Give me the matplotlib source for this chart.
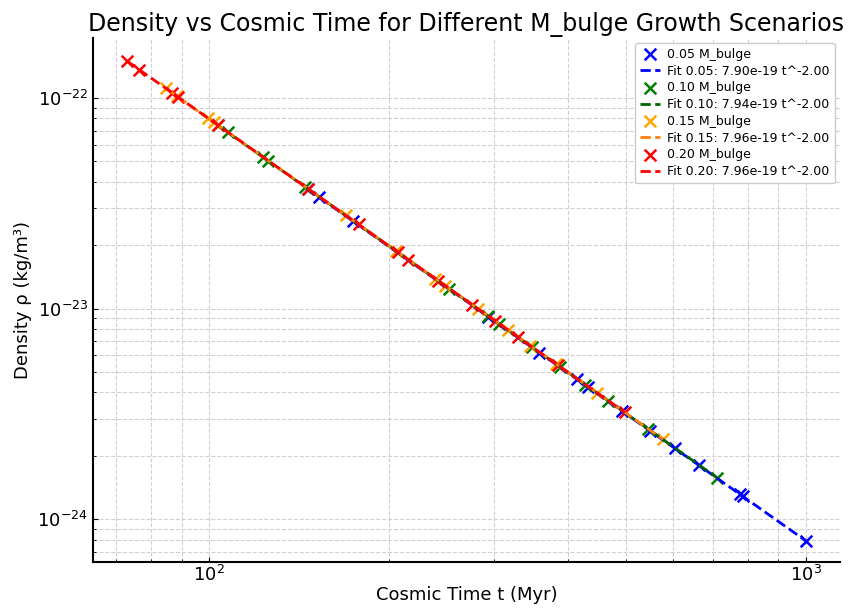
import matplotlib
matplotlib.use("Agg")
import matplotlib.pyplot as plt
from matplotlib.ticker import NullFormatter
import numpy as np

# sampled points for each bulge fraction (t in Myr, rho in kg/m^3)
t_005 = [146.4, 152.7, 174.1, 293.9, 357.7, 414.1, 432.0, 492.5, 548.5, 603.6, 662.3, 775.7, 784.6, 1000.0]
rho_005 = [3.686e-23, 3.388e-23, 2.606e-23, 9.15e-24, 6.17e-24, 4.61e-24, 4.23e-24, 3.26e-24, 2.63e-24,
           2.17e-24, 1.80e-24, 1.313e-24, 1.283e-24, 7.90e-25]

t_010 = [103.5, 107.6, 123.1, 125.5, 145.0, 252.9, 293.9, 306.6, 348.2, 387.9, 427.0, 466.6, 544.3, 710.0]
rho_010 = [7.41e-23, 6.86e-23, 5.24e-23, 5.04e-23, 3.78e-23, 1.241e-23, 9.19e-24, 8.45e-24, 6.55e-24,
           5.28e-24, 4.35e-24, 3.65e-24, 2.68e-24, 1.575e-24]

t_015 = [84.7, 88.4, 99.6, 102.0, 169.5, 206.0, 239.7, 249.1, 282.9, 317.5, 345.5, 381.9, 447.2, 576.6]
rho_015 = [1.110e-22, 1.019e-22, 8.02e-23, 7.65e-23, 2.77e-23, 1.876e-23, 1.385e-23, 1.283e-23, 9.95e-24,
           7.90e-24, 6.67e-24, 5.46e-24, 3.98e-24, 2.39e-24]

t_020 = [72.9, 76.4, 86.7, 88.8, 103.5, 146.4, 178.2, 207.1, 216.0, 242.4, 276.4, 302.0, 329.9, 384.9, 498.2]
rho_020 = [1.498e-22, 1.364e-22, 1.059e-22, 1.010e-22, 7.43e-23, 3.71e-23, 2.51e-23, 1.856e-23, 1.706e-23,
           1.355e-23, 1.042e-23, 8.73e-24, 7.31e-24, 5.37e-24, 3.21e-24]

fractions = ["0.05", "0.10", "0.15", "0.20"]
fit_amp = [7.90e-19, 7.94e-19, 7.96e-19, 7.96e-19]
fit_exp = [-2.00, -2.00, -2.00, -2.00]

scatter_colors = ["blue", "green", "orange", "red"]
fit_colors = ["blue", "darkgreen", "#ff7f0e", "red"]

x_major = [1e2, 1e3]
y_major = [1e-24, 1e-23, 1e-22]

series = [(t_005, rho_005), (t_010, rho_010), (t_015, rho_015), (t_020, rho_020)]

fig = plt.figure(figsize=(8.55, 6.09), dpi=100)
ax = fig.add_axes([0.109, 0.077, 0.873, 0.861])

for i, (t, rho) in enumerate(series):
    ax.scatter(t, rho, marker="x", s=70, linewidths=1.8, color=scatter_colors[i],
               label="%s M_bulge" % fractions[i])
    t_fit = np.logspace(np.log10(min(t)), np.log10(max(t)), 200)
    ax.plot(t_fit, fit_amp[i] * t_fit ** fit_exp[i], "--", color=fit_colors[i], lw=2,
            label="Fit %s: %.2e t^%.2f" % (fractions[i], fit_amp[i], fit_exp[i]))

ax.set_xscale("log")
ax.set_yscale("log")
ax.set_xticks(x_major)
ax.set_yticks(y_major)
ax.set_xlim(64, 1140)
ax.set_ylim(6.25e-25, 1.93e-22)
ax.xaxis.set_minor_formatter(NullFormatter())
ax.yaxis.set_minor_formatter(NullFormatter())

ax.grid(True, which="both", linestyle="--", color="#d0d0d0", linewidth=0.8)
ax.set_axisbelow(True)
ax.spines["top"].set_visible(False)
ax.spines["right"].set_visible(False)
ax.spines["left"].set_linewidth(1.5)
ax.spines["bottom"].set_linewidth(1.5)
ax.tick_params(which="both", direction="in", labelsize=13)
ax.tick_params(axis="x", which="both", pad=2)

ax.set_xlabel("Cosmic Time t (Myr)", fontsize=13, labelpad=1)
ax.set_ylabel("Density ρ (kg/m³)", fontsize=13)
ax.set_title("Density vs Cosmic Time for Different M_bulge Growth Scenarios", fontsize=17, pad=5)

ax.legend(loc="upper right", fontsize=9, framealpha=1, handlelength=1.6,
          handletextpad=0.6, labelspacing=0.3, borderaxespad=0.4)

fig.savefig("out.png", dpi=100)
